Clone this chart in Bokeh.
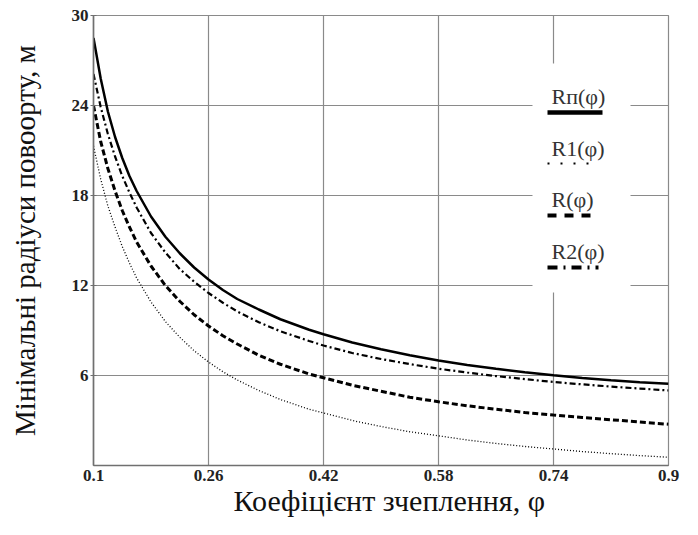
from bokeh.plotting import figure
from bokeh.models import Range1d, FixedTicker, Label, BoxAnnotation, Arrow, Title
from bokeh.embed import file_html
from bokeh.resources import INLINE

# ---- data ----
phi = [0.10, 0.11, 0.12, 0.13, 0.14, 0.15, 0.16, 0.18, 0.20, 0.22, 0.24, 0.26,
       0.28, 0.30, 0.33, 0.36, 0.40, 0.42, 0.46, 0.50, 0.54, 0.58, 0.62, 0.66,
       0.70, 0.74, 0.78, 0.82, 0.86, 0.90]

R_p = [28.5, 25.8, 23.6, 21.9, 20.5, 19.3, 18.3, 16.6, 15.25, 14.15, 13.2, 12.4,
       11.7, 11.1, 10.4, 9.75, 9.05, 8.75, 8.2, 7.75, 7.35, 7.0, 6.7, 6.45,
       6.22, 6.02, 5.84, 5.68, 5.55, 5.45]

R2 = [26.1, 23.9, 22.1, 20.6, 19.3, 18.2, 17.2, 15.5, 14.2, 13.1, 12.25, 11.5,
      10.85, 10.27, 9.55, 8.95, 8.3, 8.0, 7.5, 7.1, 6.76, 6.45, 6.2, 5.96,
      5.76, 5.57, 5.41, 5.26, 5.13, 5.0]

R = [24.0, 21.6, 19.8, 18.3, 17.0, 15.9, 14.9, 13.3, 12.0, 10.95, 10.05, 9.3,
     8.65, 8.1, 7.35, 6.75, 6.1, 5.85, 5.35, 4.95, 4.55, 4.25, 3.98, 3.75,
     3.53, 3.36, 3.2, 3.05, 2.9, 2.75]

R1 = [21.3, 19.1, 17.3, 15.9, 14.6, 13.5, 12.5, 10.9, 9.6, 8.55, 7.65, 6.9,
      6.25, 5.7, 5.0, 4.4, 3.75, 3.5, 3.0, 2.6, 2.25, 1.98, 1.7, 1.47,
      1.27, 1.1, 0.93, 0.79, 0.66, 0.55]

x_ticks = [0.1, 0.26, 0.42, 0.58, 0.74, 0.9]
x_tick_labels = ["0.1", "0.26", "0.42", "0.58", "0.74", "0.9"]
y_ticks = [6, 12, 18, 24, 30]
y_tick_labels = ["6", "12", "18", "24", "30"]
y_grid = [0, 6, 12, 18, 24, 30]

legend_labels = ["R\u043f(\u03c6)", "R1(\u03c6)", "R(\u03c6)", "R2(\u03c6)"]

x_label = "Коефіцієнт зчеплення, φ"
y_label = "Мінімальні радіуси повоорту, м"

SERIF = "'Liberation Serif'"

p = figure(width=690, height=527, output_backend="svg", toolbar_location=None,
           x_range=Range1d(0.1, 0.9), y_range=Range1d(0, 30))
p.min_border_left = 93
p.min_border_right = 22
p.min_border_top = 15
p.min_border_bottom = 62
p.background_fill_color = "white"
p.border_fill_color = "white"
p.outline_line_color = "#8a8a8a"
p.outline_line_width = 1.2

# grid
p.xgrid.ticker = FixedTicker(ticks=x_ticks)
p.ygrid.ticker = FixedTicker(ticks=y_grid)
for g in (p.xgrid, p.ygrid):
    g.grid_line_color = "#8a8a8a"
    g.grid_line_width = 1.2

# axes
p.xaxis.ticker = FixedTicker(ticks=x_ticks)
p.xaxis.major_label_overrides = dict(zip(x_ticks, x_tick_labels))
p.yaxis.ticker = FixedTicker(ticks=y_ticks)
p.yaxis.major_label_overrides = dict(zip(y_ticks, y_tick_labels))
for ax in (p.xaxis, p.yaxis):
    ax.axis_line_color = "#707070"
    ax.axis_line_width = 1.6
    ax.major_tick_line_color = "#707070"
    ax.minor_tick_line_color = None
    ax.major_label_text_font = SERIF
    ax.major_label_text_font_style = "bold"
    ax.major_label_text_font_size = "17px"
    ax.major_label_text_color = "#222222"
p.xaxis.major_tick_in = 0
p.xaxis.major_tick_out = 0
p.xaxis.major_label_standoff = 4
p.yaxis.major_tick_in = 3
p.yaxis.major_tick_out = 3
p.yaxis.major_label_standoff = 2

# y axis title
p.yaxis.axis_label = y_label
p.yaxis.axis_label_text_font = SERIF
p.yaxis.axis_label_text_font_style = "normal"
p.yaxis.axis_label_text_font_size = "29px"
p.yaxis.axis_label_text_color = "#111111"
p.yaxis.axis_label_standoff = 28

# x axis title
p.add_layout(Title(text=x_label, align="left", offset=140, standoff=0, vertical_align="top",
                   text_font=SERIF, text_font_size="30px", text_font_style="normal",
                   text_color="#111111"), "below")

# curves
p.line(phi, R1, line_color="black", line_width=1.3, line_dash="1 2")
p.line(phi, R, line_color="black", line_width=3, line_dash="6 3")
p.line(phi, R2, line_color="black", line_width=2.2, line_dash="6 3 2 3")
p.line(phi, R_p, line_color="black", line_width=2.5)

# ---- helpers: page pixel -> data coordinates (for placing the legend) ----
def dx(px):
    return 0.1 + (px - 93) * 0.8 / 575

def dy(py):
    return (465 - py) * 30 / 450

# ---- legend (drawn manually: label above its line sample) ----
p.add_layout(BoxAnnotation(left=dx(532), right=dx(630), top=dy(63), bottom=dy(292),
                           fill_color="white", fill_alpha=1.0, line_color=None))

text_base = [96, 148, 199, 251]
sample_y = [112, 163, 215, 267]
sample_x1 = [602, 592, 598, 598]
sample_style = [
    dict(line_width=4.5, line_dash="solid"),
    dict(line_width=2, line_dash="2 11"),
    dict(line_width=4, line_dash="9 8"),
    dict(line_width=4, line_dash="10 6 2 6"),
]
for lab, tb, sy, x1, st in zip(legend_labels, text_base, sample_y, sample_x1, sample_style):
    p.add_layout(Label(x=dx(551), y=dy(tb), text=lab, text_font=SERIF,
                       text_font_size="22px", text_color="#333333",
                       text_baseline="alphabetic", text_align="left"))
    p.add_layout(Arrow(start=None, end=None, x_start=dx(547), y_start=dy(sy),
                       x_end=dx(x1), y_end=dy(sy), line_color="black", **st))

open("out.html", "w").write(file_html(p, INLINE))
